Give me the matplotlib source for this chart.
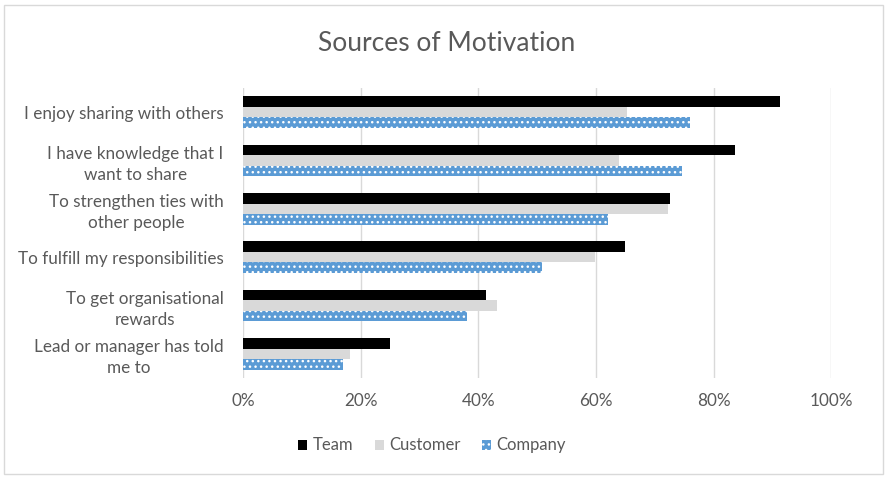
import numpy as np
import matplotlib
matplotlib.use("Agg")
import matplotlib.pyplot as plt
from matplotlib.patches import Rectangle

plt.rcParams["font.family"] = ["Lato", "DejaVu Sans"]
plt.rcParams["hatch.linewidth"] = 1.0

categories = [
    "I enjoy sharing with others",
    "I have knowledge that I\nwant to share",
    "To strengthen ties with\nother people",
    "To fulfill my responsibilities",
    "To get organisational\nrewards",
    "Lead or manager has told\nme to",
]
team = [91.3, 83.7, 72.6, 65.0, 41.3, 25.0]
customer = [65.3, 64.0, 72.2, 59.8, 43.1, 18.2]
company = [76.0, 74.6, 62.0, 50.8, 38.1, 17.0]
ticks = [0, 20, 40, 60, 80, 100]

text_col = "#595959"
y = np.arange(len(categories))
h = 0.217

fig = plt.figure(figsize=(8.87, 4.78), dpi=100)
ax = fig.add_axes([0.274, 0.209, 0.663, 0.607])

ax.barh(y - h, team, height=h, color="black", label="Team", zorder=3)
ax.barh(y, customer, height=h, color="#D9D9D9", label="Customer", zorder=3)
ax.barh(y + h, company, height=h, color="#5B9BD5", edgecolor="white",
        linewidth=0, hatch="...", label="Company", zorder=3)

ax.set_xlim(0, 100)
ax.set_ylim(len(categories) - 0.5, -0.5)
ax.set_xticks(ticks)
ax.set_xticklabels([f"{t}%" for t in ticks])
ax.set_yticks(y)
ax.set_yticklabels(categories, multialignment="center", linespacing=1.35)
ax.tick_params(length=0, labelsize=12.3, colors=text_col)
ax.tick_params(axis="x", pad=11)
ax.tick_params(axis="y", pad=14)
ax.grid(axis="x", color="#D9D9D9", linewidth=1, zorder=0)
for s in ax.spines.values():
    s.set_visible(False)

fig.text(0.503, 0.91, "Sources of Motivation", ha="center", va="center",
         fontsize=19, color=text_col)

leg = ax.legend(loc="center", bbox_to_anchor=(0.487, 0.068), bbox_transform=fig.transFigure,
                ncol=3, frameon=False, fontsize=12, handlelength=0.55, handleheight=0.55,
                handletextpad=0.3, columnspacing=1.3)
for t in leg.get_texts():
    t.set_color(text_col)

fig.patches.append(Rectangle((0.005, 0.008), 0.99, 0.982, transform=fig.transFigure,
                             fill=False, edgecolor="#D9D9D9", linewidth=1))

fig.savefig("out.png", dpi=100)
